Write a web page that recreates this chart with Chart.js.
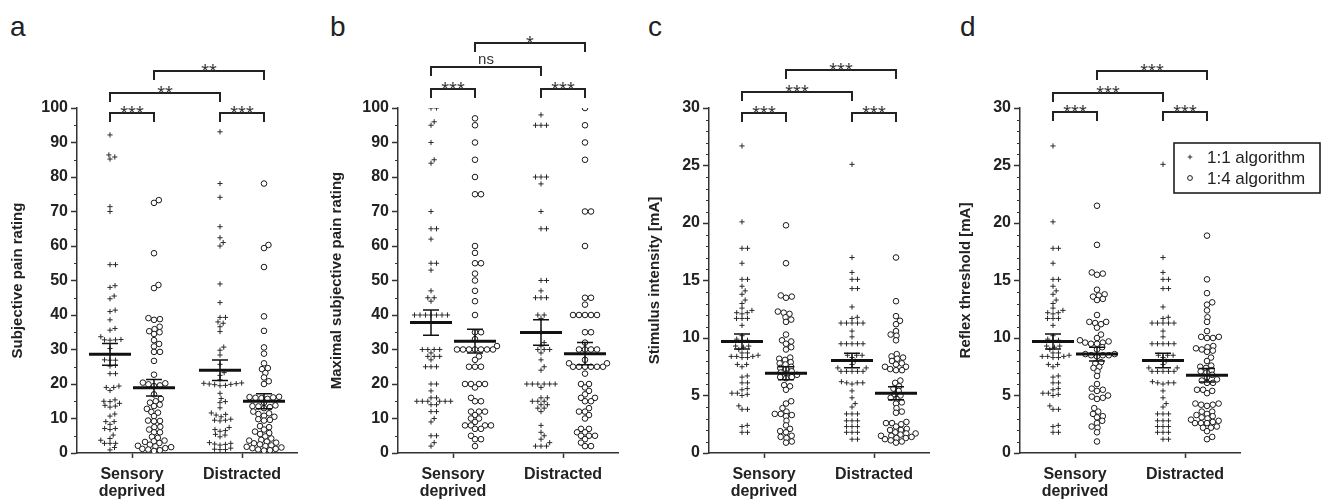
<!DOCTYPE html>
<html>
<head>
<meta charset="utf-8">
<script src="https://cdn.jsdelivr.net/npm/chart.js@4.4.1/dist/chart.umd.min.js"></script>
<style>
  body { margin: 0; background: #fff; width: 1323px; height: 500px; position: relative; overflow: hidden;
         font-family: "Liberation Sans", Arial, sans-serif; }
  canvas { position: absolute; top: 0; }
  .letter { position: absolute; top: 13px; font-size: 28px; line-height: 28px; color: #222; }
</style>
</head>
<body>
<div class="letter" style="left:10px">a</div>
<div class="letter" style="left:330px">b</div>
<div class="letter" style="left:648px">c</div>
<div class="letter" style="left:960px">d</div>
<canvas id="chart-a" width="330" height="500" style="left:2px"></canvas>
<canvas id="chart-b" width="330" height="500" style="left:323px"></canvas>
<canvas id="chart-c" width="330" height="500" style="left:634px"></canvas>
<canvas id="chart-d" width="378" height="500" style="left:945px"></canvas>
<script>
const categories = [['Sensory', 'deprived'], 'Distracted'];
const algorithms = ['1:1 algorithm', '1:4 algorithm'];

// a - subjective pain rating
const painSD11 = [92.2, 86.4, 85.8, 85.2, 71.4, 70.0, 54.6, 54.6, 48.5, 48.0, 45.5, 44.7, 41.4, 41.0, 38.6, 36.1, 35.6, 33.7, 32.8, 32.8, 32.9, 32.7, 30.3, 27.0, 26.9, 26.9, 25.4, 25.2, 23.0, 23.0, 19.4, 19.0, 19.0, 18.1, 15.4, 15.0, 14.9, 14.4, 13.8, 13.6, 13.3, 11.3, 10.7, 9.1, 9.1, 8.3, 7.1, 7.1, 6.8, 5.2, 4.2, 3.7, 2.8, 2.8, 2.8, 1.6, 0.9];
const painSD14 = [73.3, 72.5, 57.9, 48.7, 47.8, 39.1, 38.8, 38.6, 36.6, 35.9, 35.3, 35.0, 34.5, 32.7, 31.6, 30.9, 29.3, 29.3, 26.7, 22.7, 20.4, 20.2, 19.9, 19.6, 19.4, 17.0, 15.7, 15.0, 14.6, 14.0, 13.6, 12.8, 11.9, 11.7, 10.7, 9.4, 9.3, 9.2, 7.6, 7.5, 6.8, 6.0, 6.0, 4.7, 4.4, 3.6, 3.4, 3.2, 2.9, 2.4, 2.1, 1.9, 1.7, 1.4, 1.2, 1.0, 0.8, 0.6];
const painDi11 = [93.1, 78.1, 74.1, 65.6, 62.4, 61.0, 60.0, 49.0, 43.6, 39.3, 39.3, 38.0, 37.6, 36.6, 35.2, 30.7, 29.8, 28.4, 25.7, 23.3, 22.5, 21.2, 20.3, 20.2, 20.1, 20.0, 19.9, 19.8, 19.6, 19.5, 17.3, 15.8, 14.9, 14.6, 13.1, 11.6, 11.2, 11.0, 10.5, 9.8, 9.5, 9.5, 9.3, 7.4, 6.8, 6.5, 6.3, 5.4, 5.2, 4.7, 3.0, 2.8, 2.6, 2.5, 2.3, 1.4, 1.1, 1.0, 1.0];
const painDi14 = [78.1, 60.3, 59.4, 53.9, 39.6, 35.4, 30.6, 28.8, 26.0, 24.6, 24.3, 23.2, 21.9, 20.8, 20.0, 16.3, 16.0, 16.2, 15.9, 16.1, 15.7, 14.6, 13.8, 13.5, 13.3, 13.6, 13.0, 12.0, 11.5, 11.3, 10.8, 10.5, 9.8, 9.6, 9.4, 7.8, 7.5, 6.8, 6.2, 5.8, 5.5, 4.8, 4.2, 3.8, 3.6, 3.3, 3.0, 2.8, 2.5, 2.2, 2.0, 1.8, 1.6, 1.4, 1.2, 1.0, 0.8, 0.7];
const painMean = [28.6, 18.9, 24.0, 15.0];
const painSem = [3.15, 2.4, 2.95, 2.2];
const painSig = ['***', '***', '**', '**'];

// b - maximal subjective pain rating
const maxSD11 = [100, 100, 96, 95, 90, 85, 84, 70, 65, 65, 62, 55, 55, 53, 47, 45, 45, 44, 40, 40, 40, 40, 40, 40, 40, 30, 30, 30, 30, 29, 28, 28, 28, 27, 25, 25, 25, 20, 20, 18, 16, 16, 15, 15, 15, 15, 15, 15, 14, 14, 12, 12, 10, 9, 5, 5, 3, 2];
const maxSD14 = [97, 95, 90, 85, 80, 75, 75, 60, 58, 55, 55, 52, 50, 47, 44, 40, 35, 35, 33, 31, 30, 30, 30, 30, 30, 30, 30, 28, 27, 25, 25, 25, 20, 20, 20, 20, 19, 16, 15, 15, 12, 12, 12, 11, 10, 10, 9, 8, 8, 8, 8, 7, 7, 5, 4, 4, 2];
const maxDi11 = [98, 95, 95, 95, 80, 80, 80, 78, 70, 65, 65, 50, 50, 47, 45, 45, 45, 40, 40, 39, 35, 32, 31, 30, 30, 30, 29, 27, 25, 24, 20, 20, 20, 20, 20, 20, 19, 16, 16, 15, 15, 14, 14, 15, 13, 12, 13, 8, 6, 5, 4, 3, 2, 2, 2];
const maxDi14 = [100, 95, 90, 85, 70, 70, 60, 45, 45, 43, 40, 40, 40, 40, 40, 35, 35, 32, 30, 30, 30, 30, 27, 26, 26, 25, 25, 25, 25, 25, 25, 23, 20, 20, 19, 18, 17, 16, 16, 15, 15, 13, 12, 12, 11, 10, 7, 7, 6, 6, 5, 5, 5, 4, 3, 2, 2];
const maxMean = [37.8, 32.4, 34.9, 28.8];
const maxSem = [3.65, 3.45, 3.7, 3.25];
const maxSig = ['***', '***', 'ns', '*'];

// c - stimulus intensity [mA]
const stimSD11 = [26.7, 20.1, 17.8, 17.8, 16.5, 15.1, 15.1, 14.5, 14.1, 13.8, 13.3, 13.0, 12.6, 12.4, 12.2, 12.2, 12.1, 11.7, 11.7, 11.7, 11.1, 10.2, 9.9, 9.8, 9.8, 9.3, 9.3, 9.2, 9.0, 8.7, 8.7, 8.5, 8.4, 8.4, 8.4, 8.3, 8.3, 7.7, 7.7, 7.5, 6.7, 6.6, 6.1, 6.1, 5.6, 5.5, 5.2, 5.2, 5.1, 5.0, 4.1, 3.8, 3.8, 2.4, 2.3, 1.8, 1.8];
const stimSD14 = [19.8, 16.5, 13.7, 13.6, 13.5, 12.3, 12.2, 12.1, 11.8, 11.6, 11.4, 10.3, 9.8, 9.7, 9.5, 9.2, 9.0, 8.3, 8.2, 8.1, 7.9, 7.8, 7.7, 7.5, 7.4, 7.3, 7.1, 7.0, 6.9, 6.8, 6.6, 6.6, 6.5, 5.9, 5.8, 5.5, 4.5, 4.3, 3.9, 3.6, 3.4, 3.4, 3.3, 3.2, 2.8, 2.4, 2.1, 1.9, 1.8, 1.5, 1.4, 1.3, 1.0, 0.9];
const stimDi11 = [25.1, 17.0, 15.7, 15.1, 15.1, 14.3, 14.3, 12.7, 11.8, 11.7, 11.3, 11.3, 11.3, 11.3, 11.3, 10.6, 10.1, 9.5, 9.5, 9.5, 9.5, 9.5, 8.5, 8.5, 8.5, 8.3, 8.0, 7.7, 7.4, 7.4, 7.1, 7.1, 7.1, 7.1, 7.1, 6.2, 6.1, 6.1, 6.1, 6.0, 5.4, 4.8, 4.3, 4.0, 3.4, 3.4, 3.4, 2.8, 2.8, 2.8, 2.3, 2.3, 2.3, 1.8, 1.8, 1.8, 1.2, 1.2];
const stimDi14 = [17.0, 13.2, 11.9, 11.5, 11.2, 10.6, 10.3, 10.2, 9.8, 8.6, 8.4, 8.3, 8.2, 8.0, 7.8, 7.7, 7.5, 7.5, 7.3, 7.2, 7.2, 6.3, 6.1, 5.8, 5.6, 5.4, 5.1, 5.0, 4.8, 4.7, 4.4, 4.3, 3.9, 3.6, 3.5, 2.7, 2.6, 2.6, 2.5, 2.3, 2.1, 2.0, 2.0, 1.8, 1.7, 1.7, 1.6, 1.5, 1.5, 1.4, 1.3, 1.3, 1.2, 1.1, 1.0, 0.9];
const stimMean = [9.7, 6.94, 8.05, 5.19];
const stimSem = [0.65, 0.57, 0.63, 0.57];
const stimSig = ['***', '***', '***', '***'];

// d - reflex threshold [mA] (1:1 values are the same as the stimulus intensities)
const reflexSD11 = stimSD11;
const reflexSD14 = [21.5, 18.1, 15.7, 15.6, 15.5, 14.2, 13.8, 13.7, 13.6, 13.4, 13.3, 12.0, 11.4, 11.4, 11.3, 11.2, 10.9, 10.3, 10.0, 9.8, 9.7, 9.6, 9.6, 9.5, 9.5, 9.2, 9.0, 8.6, 8.6, 8.5, 8.5, 8.5, 8.4, 7.9, 7.8, 7.5, 7.4, 7.1, 6.7, 6.0, 5.6, 5.5, 5.4, 5.0, 4.9, 4.8, 4.7, 3.9, 3.6, 3.4, 3.2, 3.1, 2.8, 2.6, 2.3, 2.2, 1.8, 1.0];
const reflexDi11 = stimDi11;
const reflexDi14 = [18.9, 15.1, 13.9, 13.1, 12.9, 12.4, 11.8, 11.4, 10.6, 10.1, 10.1, 10.0, 10.0, 9.3, 9.2, 9.1, 9.0, 8.9, 8.8, 8.3, 8.0, 7.6, 7.5, 7.4, 7.2, 7.1, 7.0, 6.8, 6.6, 6.4, 6.3, 6.1, 6.1, 5.5, 5.5, 5.4, 5.2, 4.3, 4.3, 4.2, 4.2, 4.1, 3.6, 3.6, 3.4, 3.3, 3.2, 3.1, 3.0, 2.9, 2.8, 2.7, 2.6, 2.6, 2.6, 2.3, 2.2, 2.2, 1.9, 1.4, 1.2];
const reflexMean = [9.7, 8.6, 8.05, 6.76];
const reflexSem = [0.65, 0.6, 0.63, 0.58];
const reflexSig = ['***', '***', '***', '***'];

const INK = '#222';
const FONT = '"Liberation Sans", Arial, sans-serif';
const PLOT_W = 220, PLOT_H = 345, AXIS_BOX = 75;

const panels = [
  { id: 'chart-a', title: 'Subjective pain rating', max: 100, major: 10, minor: 5, titlePad: 7, width: 330,
    groups: [painSD11, painSD14, painDi11, painDi14], mean: painMean, sem: painSem, sig: painSig, levels: [5, -15, -37] },
  { id: 'chart-b', title: 'Maximal subjective pain rating', max: 100, major: 10, minor: 5, titlePad: 5, width: 330,
    groups: [maxSD11, maxSD14, maxDi11, maxDi14], mean: maxMean, sem: maxSem, sig: maxSig, levels: [-19, -41, -65] },
  { id: 'chart-c', title: 'Stimulus intensity [mA]', max: 30, major: 5, minor: 1, titlePad: 12, width: 330,
    groups: [stimSD11, stimSD14, stimDi11, stimDi14], mean: stimMean, sem: stimSem, sig: stimSig, levels: [5, -16, -38] },
  { id: 'chart-d', title: 'Reflex threshold [mA]', max: 30, major: 5, minor: 1, titlePad: 12, width: 378, legend: true,
    groups: [reflexSD11, reflexSD14, reflexDi11, reflexDi14], mean: reflexMean, sem: reflexSem, sig: reflexSig, levels: [4, -15, -37] }
];

// x position of each group: category 1/2, 1:1 on the left, 1:4 on the right
const groupX = [0.8, 1.2, 1.8, 2.2];

// beeswarm in pixel space (vertical distance weighted by f), returns x in data units
function swarm(values, center, sx, sy, d, f) {
  const order = values.map((v, i) => i).sort((a, b) => values[a] - values[b]);
  const placed = [];
  const out = new Array(values.length);
  order.forEach(i => {
    const y = values[i] * sy * f;
    const near = placed.filter(p => Math.abs(p.y - y) < d);
    const cands = [0];
    near.forEach(p => {
      const dx = Math.sqrt(d * d - (p.y - y) * (p.y - y));
      cands.push(p.x + dx, p.x - dx);
    });
    cands.sort((a, b) => Math.abs(a) - Math.abs(b));
    const x = cands.find(c => near.every(p => (p.x - c) ** 2 + (p.y - y) ** 2 >= d * d - 0.01));
    placed.push({ x, y });
    out[i] = center + x / sx;
  });
  return out;
}

function makeDecor(p) {
  return {
    id: 'decor',
    afterDatasetsDraw(chart) {
      const ctx = chart.ctx, xs = chart.scales.x, ys = chart.scales.y;
      ctx.save();
      ctx.strokeStyle = '#111';
      p.mean.forEach((m, i) => {
        const x = xs.getPixelForValue(groupX[i]);
        const yt = ys.getPixelForValue(m + p.sem[i]);
        const yb = ys.getPixelForValue(m - p.sem[i]);
        const ym = ys.getPixelForValue(m);
        ctx.lineWidth = 1.5;
        ctx.beginPath();
        ctx.moveTo(x, yt); ctx.lineTo(x, yb);
        ctx.moveTo(x - 8, yt); ctx.lineTo(x + 8, yt);
        ctx.moveTo(x - 8, yb); ctx.lineTo(x + 8, yb);
        ctx.stroke();
        ctx.lineWidth = 3;
        ctx.beginPath();
        ctx.moveTo(x - 21, ym); ctx.lineTo(x + 21, ym);
        ctx.stroke();
      });
      ctx.restore();
    },
    afterDraw(chart) {
      const ctx = chart.ctx, xs = chart.scales.x, ys = chart.scales.y, area = chart.chartArea;
      ctx.save();
      // minor ticks on y axis
      ctx.strokeStyle = '#333';
      ctx.lineWidth = 1;
      for (let v = 0; v <= p.max; v += p.minor) {
        if (v % p.major === 0) continue;
        const y = Math.round(ys.getPixelForValue(v)) + 0.5;
        ctx.beginPath();
        ctx.moveTo(area.left - 3, y); ctx.lineTo(area.left, y);
        ctx.stroke();
      }
      // significance brackets
      const pairs = [[0, 1, 0], [2, 3, 0], [0, 2, 1], [1, 3, 2]];
      ctx.strokeStyle = INK;
      ctx.fillStyle = '#333';
      ctx.lineWidth = 2;
      ctx.textAlign = 'center';
      pairs.forEach(([g1, g2, lvl], k) => {
        const x1 = xs.getPixelForValue(groupX[g1]);
        const x2 = xs.getPixelForValue(groupX[g2]);
        const y = area.top + p.levels[lvl];
        ctx.beginPath();
        ctx.moveTo(x1, y + 9); ctx.lineTo(x1, y); ctx.lineTo(x2, y); ctx.lineTo(x2, y + 9);
        ctx.stroke();
        const label = p.sig[k];
        if (label === 'ns') {
          ctx.font = '15px ' + FONT;
          ctx.fillText(label, (x1 + x2) / 2, y - 3);
        } else {
          ctx.font = '20px ' + FONT;
          ctx.fillText(label, (x1 + x2) / 2, y + 7);
        }
      });
      // legend box
      if (p.legend) {
        const bx = 229, by = 143, bw = 146, bh = 50;
        ctx.lineWidth = 1.5;
        ctx.strokeStyle = '#111';
        ctx.strokeRect(bx, by, bw, bh);
        ctx.textAlign = 'left';
        ctx.textBaseline = 'middle';
        ctx.font = '17px ' + FONT;
        chart.data.datasets.forEach((ds, i) => {
          const ly = by + 14 + i * 21;
          ctx.strokeStyle = ds.borderColor;
          ctx.fillStyle = ds.backgroundColor;
          ctx.lineWidth = 1;
          Chart.helpers.drawPoint(ctx, {
            pointStyle: ds.pointStyle, radius: ds.pointStyle === 'cross' ? 2.3 : 2.4,
            borderWidth: 1, rotation: 0
          }, bx + 16, ly);
          ctx.fillStyle = INK;
          ctx.fillText(ds.label, bx + 33, ly + 1);
        });
      }
      ctx.restore();
    }
  };
}

panels.forEach(p => {
  const sx = PLOT_W / 2, sy = PLOT_H / p.max;
  const toPoints = (vals, gi, d) => {
    const xs = swarm(vals, groupX[gi], sx, sy, d, 1.3);
    return vals.map((v, i) => ({ x: xs[i], y: v }));
  };
  const data11 = toPoints(p.groups[0], 0, 5.5).concat(toPoints(p.groups[2], 2, 5.5));
  const data14 = toPoints(p.groups[1], 1, 6).concat(toPoints(p.groups[3], 3, 6));

  const axisBorder = { display: true, color: '#333', width: 1.5 };
  const axisGrid = { display: true, drawOnChartArea: false, drawTicks: true, tickLength: 5, tickColor: '#333', tickWidth: 1.5 };

  new Chart(document.getElementById(p.id), {
    type: 'scatter',
    data: {
      datasets: [
        { label: algorithms[0], data: data11, pointStyle: 'cross', pointRadius: 2.6, pointHoverRadius: 2.6,
          borderColor: '#2a2a2a', backgroundColor: '#2a2a2a', borderWidth: 1 },
        { label: algorithms[1], data: data14, pointStyle: 'circle', pointRadius: 2.8, pointHoverRadius: 2.8,
          borderColor: '#1a1a1a', backgroundColor: '#fff', borderWidth: 1 }
      ]
    },
    options: {
      responsive: false,
      animation: false,
      events: [],
      layout: { padding: { top: 108, right: p.width - AXIS_BOX - PLOT_W, bottom: 0, left: 0 } },
      plugins: { legend: { display: false }, tooltip: { enabled: false } },
      scales: {
        x: {
          type: 'linear', min: 0.5, max: 2.5,
          afterBuildTicks: s => { s.ticks = [{ value: 1 }, { value: 2 }]; },
          afterFit: s => { s.height = 47; },
          ticks: { callback: v => categories[v - 1], color: INK, padding: 8, maxRotation: 0, autoSkip: false,
                   font: { family: FONT, size: 16, weight: 'bold', lineHeight: 1.05 } },
          grid: axisGrid, border: axisBorder
        },
        y: {
          min: 0, max: p.max,
          afterFit: s => { s.width = AXIS_BOX; },
          ticks: { stepSize: p.major, color: INK, padding: 3,
                   font: { family: FONT, size: 16, weight: 'bold' } },
          title: { display: true, text: p.title, color: INK, padding: { top: p.titlePad, bottom: 0 },
                   font: { family: FONT, size: 15, weight: 'bold' } },
          grid: Object.assign({}, axisGrid, { tickLength: 6 }), border: axisBorder
        }
      }
    },
    plugins: [makeDecor(p)]
  });
});
</script>
</body>
</html>
